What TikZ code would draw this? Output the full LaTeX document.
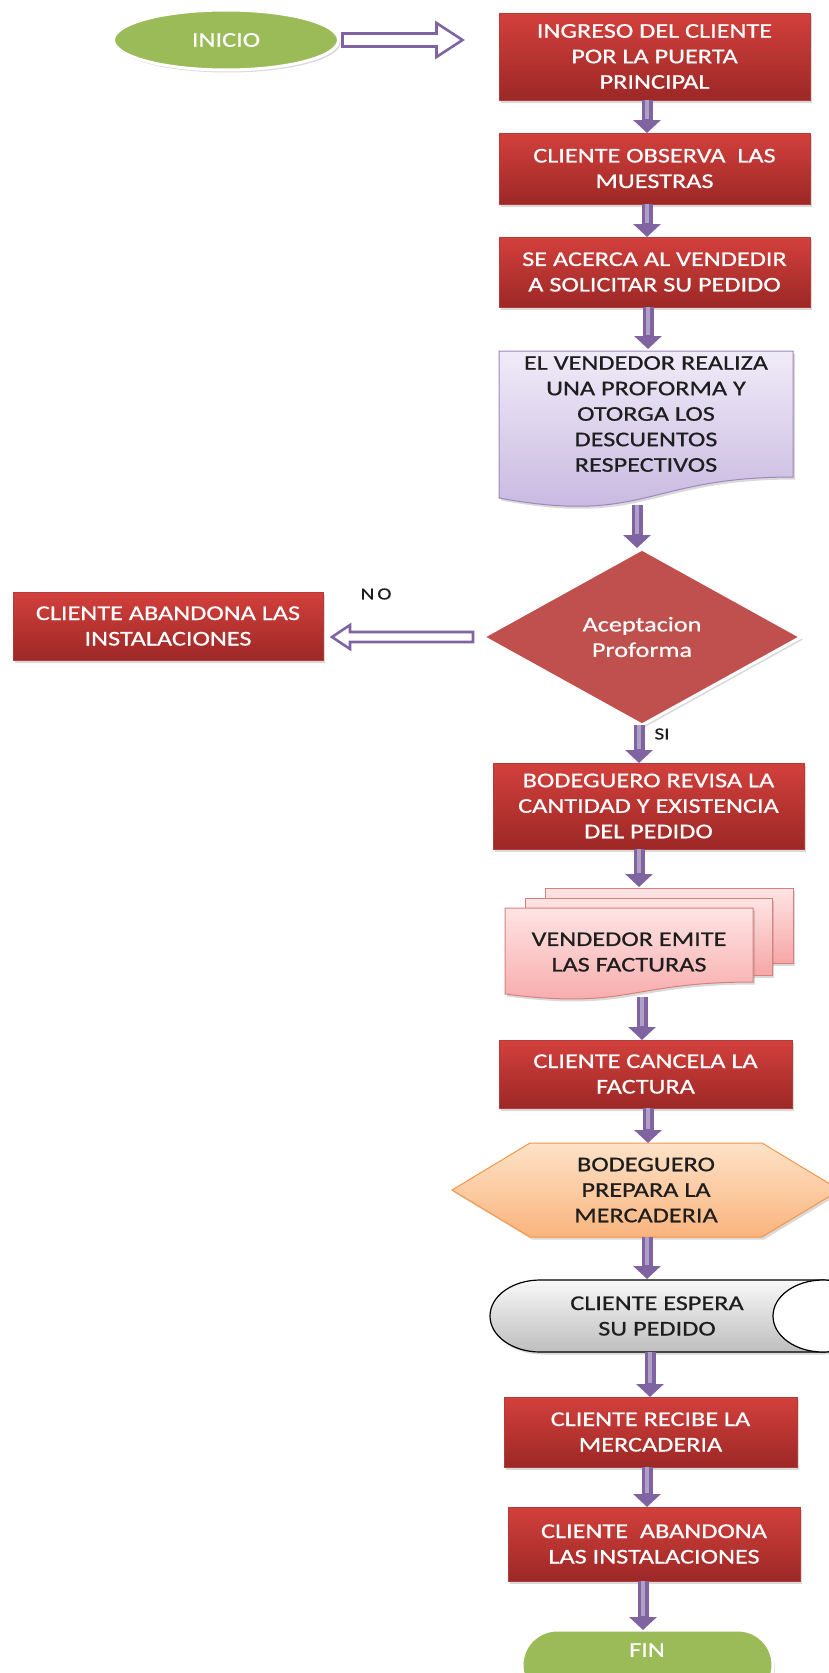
\documentclass[tikz,border=0pt]{standalone}
\usepackage{fontspec}
\setmainfont{Carlito}[FakeStretch=1.25, FakeBold=0.6]
\usetikzlibrary{shapes.geometric, shadows, arrows.meta}

\definecolor{redtop}{RGB}{211,64,60}
\definecolor{redbot}{RGB}{156,40,38}
\definecolor{redborder}{RGB}{178,60,57}
\definecolor{greenfill}{RGB}{155,187,89}
\definecolor{arrowpurple}{RGB}{128,100,162}
\definecolor{arrowlight}{RGB}{176,160,200}
\definecolor{doctop}{RGB}{240,235,248}
\definecolor{docbot}{RGB}{196,180,222}
\definecolor{docborder}{RGB}{158,135,194}
\definecolor{diared}{RGB}{192,80,77}
\definecolor{pinktop}{RGB}{255,228,228}
\definecolor{pinkbot}{RGB}{247,166,166}
\definecolor{pinkborder}{RGB}{217,128,126}
\definecolor{orangetop}{RGB}{253,226,200}
\definecolor{orangebot}{RGB}{250,180,125}
\definecolor{orangeborder}{RGB}{247,150,70}
\definecolor{graytop}{RGB}{248,248,248}
\definecolor{graybot}{RGB}{190,190,190}
\definecolor{darktext}{RGB}{30,30,30}

\begin{document}
\begin{tikzpicture}[x=1pt, y=-1pt,
  txt/.style={font=\fontsize{21}{25.5}\selectfont, align=center, inner sep=0pt, outer sep=0pt},
  shadowed/.style={drop shadow={shadow xshift=2pt, shadow yshift=-2.5pt, opacity=0.3}},
  redbox/.style={txt, rectangle, draw=redborder, line width=0.6pt, top color=redtop, bottom color=redbot, text=white, shadowed},
  whiteedge/.style={draw=white, line width=3pt, shadowed},
  docshape/.style={draw=docborder, line width=1pt, top color=doctop, bottom color=docbot, shadowed},
  pinkdoc/.style={draw=pinkborder, line width=1pt, top color=pinktop, bottom color=pinkbot, shadowed},
  hexshape/.style={draw=orangeborder, line width=1pt, top color=orangetop, bottom color=orangebot, shadowed},
  cylshape/.style={draw=black, line width=1.2pt, top color=graytop, bottom color=graybot, shadowed},
  varrow/.style={draw=arrowpurple, line width=11pt, -{Triangle[width=27pt,length=13pt]},
    postaction={draw=arrowlight, line width=3.5pt, -, shorten >=14pt}},
  hollowarrow/.style={draw=arrowpurple, line width=2.6pt, fill=white, line join=miter},
  lbl/.style={font=\fontsize{17}{20}\selectfont, text=darktext, inner sep=0pt}
]
\useasboundingbox (0,0) rectangle (828,1673);

% start
\node[txt, ellipse, minimum width=225pt, minimum height=60pt, fill=greenfill, whiteedge, text=white] (inicio) at (226,40) {INICIO};

% main boxes
\node[redbox, minimum width=311pt, minimum height=87pt] (b1) at (654.5,56.5) {INGRESO DEL CLIENTE\\POR LA PUERTA\\PRINCIPAL};
\node[redbox, minimum width=311pt, minimum height=71pt] (b2) at (654.5,168.5) {CLIENTE OBSERVA\ \ LAS\\MUESTRAS};
\node[redbox, minimum width=311pt, minimum height=70pt] (b3) at (654.5,272) {SE ACERCA AL VENDEDIR\\A SOLICITAR SU PEDIDO};

% document
\path[docshape] (499,351) -- (793,351) -- (793,477) .. controls (646,477) and (646,525) .. (499,498) -- cycle;
\node[txt, text=darktext, minimum width=294pt, minimum height=126pt] (doc) at (646,414) {EL VENDEDOR REALIZA\\UNA PROFORMA Y\\OTORGA LOS\\DESCUENTOS\\RESPECTIVOS};

% decision
\node[txt, diamond, minimum width=318pt, minimum height=176pt, fill=diared, whiteedge, text=white] (dia) at (642,637) {Aceptacion\\Proforma};
\node[redbox, minimum width=310pt, minimum height=68pt] (ab1) at (168,626) {CLIENTE ABANDONA LAS\\INSTALACIONES};
\node[lbl, font=\fontsize{17}{20}\selectfont\addfontfeature{LetterSpace=18}] (no) at (376,594) {NO};
\node[lbl] (si) at (662,734) {SI};

\node[redbox, minimum width=311pt, minimum height=86pt] (b4) at (648.5,806) {BODEGUERO REVISA LA\\CANTIDAD Y EXISTENCIA\\DEL PEDIDO};

% multidocument
\path[pinkdoc] (545,888) rectangle (793,963);
\path[pinkdoc] (525,898) rectangle (772,975);
\path[pinkdoc] (505,908) -- (753,908) -- (753,982) .. controls (629,982) and (629,1010) .. (505,994) -- cycle;
\node[txt, text=darktext, minimum width=248pt, minimum height=74pt] (mdoc) at (629,952) {VENDEDOR EMITE\\LAS FACTURAS};

\node[redbox, minimum width=293pt, minimum height=68pt] (b5) at (645.5,1074) {CLIENTE CANCELA LA\\FACTURA};

% preparation hexagon
\path[hexshape] (452,1190) -- (530,1143) -- (762,1143) -- (840,1190) -- (762,1237) -- (530,1237) -- cycle;
\node[txt, text=darktext, minimum width=232pt, minimum height=94pt] (hex) at (646,1190) {BODEGUERO\\PREPARA LA\\MERCADERIA};

% direct access storage
\path[cylshape] (540,1280) -- (823,1280) arc[start angle=-90, end angle=90, x radius=50, y radius=36] -- (540,1352) arc[start angle=90, end angle=270, x radius=50, y radius=36] -- cycle;
\path[draw=black, line width=1.2pt, fill=white] (823,1316) ellipse[x radius=50, y radius=36];
\node[txt, text=darktext, minimum width=200pt, minimum height=72pt] (cyl) at (657,1316) {CLIENTE ESPERA\\SU PEDIDO};

\node[redbox, minimum width=293pt, minimum height=70pt] (b6) at (650.5,1432) {CLIENTE RECIBE LA\\MERCADERIA};
\node[redbox, minimum width=292pt, minimum height=74pt] (b7) at (654,1544) {CLIENTE\ \ ABANDONA\\LAS INSTALACIONES};

% end (terminator, cut by the lower edge)
\path[fill=greenfill, whiteedge, rounded corners=35pt] (522,1630) rectangle (773,1700);
\node[txt, text=white, minimum width=240pt, minimum height=36pt] (fin) at (647,1650) {FIN};

% hollow arrows
\draw[hollowarrow] (inicio.east) ++(4,-6.5) -- ++(94,0) -- ++(0,-10.5) -- ++(26,17) -- ++(-26,17) -- ++(0,-10.5) -- ++(-94,0) -- cycle;
\draw[hollowarrow] (dia.west) ++(-10,-5) -- ++(-123,0) -- ++(0,-7) -- ++(-18,12) -- ++(18,12) -- ++(0,-7) -- ++(123,0) -- cycle;

% vertical arrows
\draw[varrow] ([xshift=-7.5pt]b1.south) -- ([xshift=-7.5pt]b2.north);
\draw[varrow] ([xshift=-7.5pt]b2.south) -- ([xshift=-7.5pt]b3.north);
\draw[varrow] ([xshift=-6.5pt]b3.south) -- ([xshift=2pt,yshift=2pt]doc.north);
\draw[varrow] ([xshift=-9pt,yshift=-28pt]doc.south) -- ([xshift=-5pt,yshift=1pt]dia.north);
\draw[varrow] ([xshift=-3pt]dia.south) -- ([xshift=-9.5pt]b4.north);
\draw[varrow] ([xshift=-9.5pt]b4.south) -- ([xshift=10pt,yshift=28pt]mdoc.north);
\draw[varrow] ([xshift=13pt,yshift=-8pt]mdoc.south) -- ([xshift=-3.5pt]b5.north);
\draw[varrow] ([xshift=2.5pt]b5.south) -- ([xshift=2pt]hex.north);
\draw[varrow] ([xshift=1pt]hex.south) -- ([xshift=-10pt,yshift=1pt]cyl.north);
\draw[varrow] ([xshift=-7pt]cyl.south) -- ([xshift=-0.5pt]b6.north);
\draw[varrow] ([xshift=-3.5pt]b6.south) -- ([xshift=-7pt]b7.north);
\draw[varrow] ([xshift=-11pt]b7.south) -- ([xshift=-4pt,yshift=2pt]fin.north);
\end{tikzpicture}
\end{document}
